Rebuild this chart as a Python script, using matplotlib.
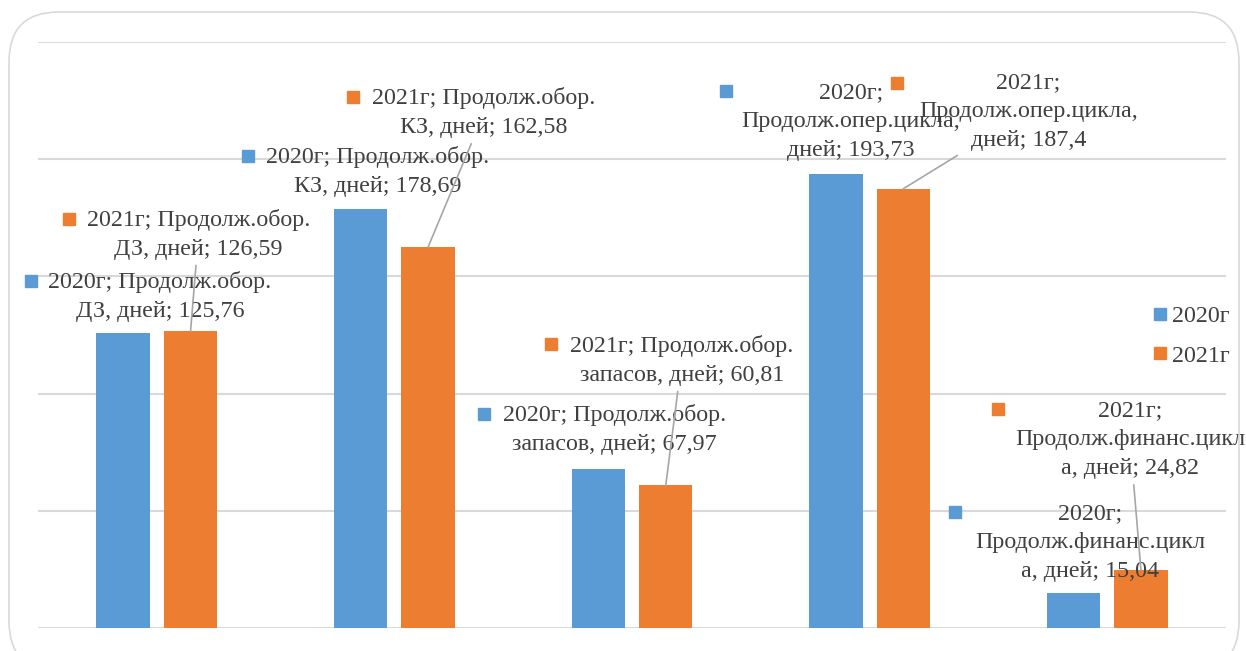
import numpy as np
import matplotlib
matplotlib.use('Agg')
import matplotlib.pyplot as plt
from matplotlib.patches import FancyBboxPatch
from matplotlib.lines import Line2D
from matplotlib.transforms import offset_copy

plt.rcParams['font.family'] = ['Liberation Serif', 'DejaVu Serif']

# Data
series = ['2020г', '2021г']
val_2020 = [125.76, 178.69, 67.97, 193.73, 15.04]
val_2021 = [126.59, 162.58, 60.81, 187.4, 24.82]
labels_2020 = [
    '2020г; Продолж.обор.\nДЗ, дней; 125,76',
    '2020г; Продолж.обор.\nКЗ, дней; 178,69',
    '2020г; Продолж.обор.\nзапасов, дней; 67,97',
    '2020г;\nПродолж.опер.цикла,\nдней; 193,73',
    '2020г;\nПродолж.финанс.цикл\nа, дней; 15,04',
]
labels_2021 = [
    '2021г; Продолж.обор.\nДЗ, дней; 126,59',
    '2021г; Продолж.обор.\nКЗ, дней; 162,58',
    '2021г; Продолж.обор.\nзапасов, дней; 60,81',
    '2021г;\nПродолж.опер.цикла,\nдней; 187,4',
    '2021г;\nПродолж.финанс.цикл\nа, дней; 24,82',
]

# label layout: text centre offset and marker offset from bar top (pixels)
text_off_2020 = [(37, 37), (17, 38), (16, 39), (15, 52), (17, 50)]
mark_off_2020 = [(-92, 52), (-113, 53), (-114, 55), (-110, 83), (-118, 81)]
text_off_2021 = [(8, 97), (56, 134), (16, 125), (125, 77), (-11, 130)]
mark_off_2021 = [(-122, 112), (-75, 150), (-115, 141), (-6, 106), (-143, 161)]

blue = '#5B9BD5'
orange = '#ED7D31'
txt = '#404040'
fs = 17.3

fig = plt.figure(figsize=(12.46, 6.51), dpi=100)
ax = fig.add_axes([38 / 1246, 23 / 651, 1188 / 1246, 586 / 651])

# rounded frame
frame = FancyBboxPatch((9 / 1246, -20 / 651), 1230 / 1246, 659 / 651,
                       boxstyle='round,pad=0,rounding_size=0.04',
                       transform=fig.transFigure, facecolor='none',
                       edgecolor='#d9d9d9', lw=1.2, mutation_aspect=1246 / 651)
fig.patches.append(frame)

x = np.arange(len(val_2020))
w = 0.225
d = 0.142
ax.bar(x - d, val_2020, w, color=blue, zorder=3)
ax.bar(x + d, val_2021, w, color=orange, zorder=3)

ax.set_xlim(-0.5, 4.5)
ax.set_ylim(0, 250)
ax.set_yticks(np.arange(0, 251, 50))
ax.grid(axis='y', color='#d9d9d9', lw=1.5, zorder=0)
ax.tick_params(left=False, bottom=False, labelleft=False, labelbottom=False)
for s in ax.spines.values():
    s.set_visible(False)


def add_labels(xs, vals, labels, toff, moff, col, leader):
    for xi, v, lab, (tx, ty), (mx, my) in zip(xs, vals, labels, toff, moff):
        ap = dict(arrowstyle='-', color='#a6a6a6', lw=1.2, shrinkA=2, shrinkB=0) if leader else None
        ax.annotate(lab, xy=(xi, v), xytext=(tx, ty), textcoords='offset pixels',
                    ha='center', va='center', fontsize=fs, color=txt,
                    linespacing=1.5, arrowprops=ap, zorder=5)
        tr = offset_copy(ax.transData, fig=fig, x=mx, y=my, units='dots')
        ax.plot([xi], [v], marker='s', ms=8, color=col, transform=tr,
                clip_on=False, zorder=5)


add_labels(x - d, val_2020, labels_2020, text_off_2020, mark_off_2020, blue, False)
add_labels(x + d, val_2021, labels_2021, text_off_2021, mark_off_2021, orange, True)

handles = [Line2D([], [], marker='s', ms=8, color=c, ls='none') for c in (blue, orange)]
fig.legend(handles, series, loc='center left', bbox_to_anchor=(1141 / 1246, 1 - 336 / 651),
           frameon=False, fontsize=fs, handlelength=0.6, handletextpad=0.2,
           labelspacing=0.75, labelcolor=txt, borderpad=0)

fig.savefig('out.png', dpi=100)
